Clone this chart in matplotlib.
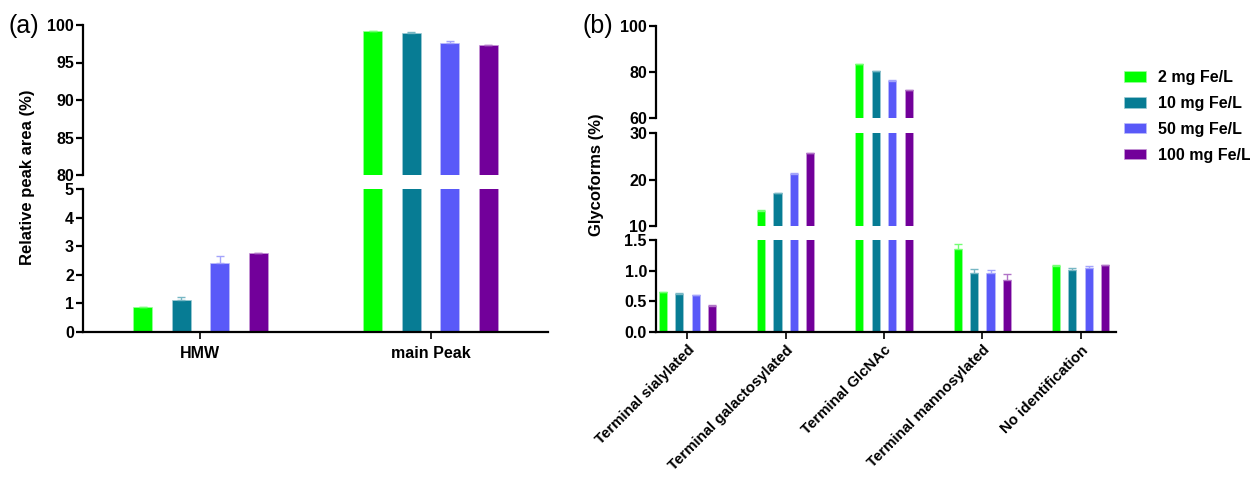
import numpy as np
import matplotlib
matplotlib.use("Agg")
import matplotlib.pyplot as plt
from matplotlib.colors import to_rgb

plt.rcParams["font.family"] = ["Liberation Sans", "DejaVu Sans"]
plt.rcParams["font.weight"] = "bold"
plt.rcParams["font.size"] = 11.5

# --- data ---
doses = ["2 mg Fe/L", "10 mg Fe/L", "50 mg Fe/L", "100 mg Fe/L"]
colors = ["#00FF00", "#077C94", "#5959F8", "#72009A"]

peaks = ["HMW", "main Peak"]
peak_area = [
    [0.88, 99.20],   # 2 mg
    [1.13, 98.93],   # 10 mg
    [2.42, 97.63],   # 50 mg
    [2.77, 97.28],   # 100 mg
]
peak_err = [
    [0.00, 0.00],
    [0.09, 0.10],
    [0.23, 0.25],
    [0.00, 0.00],
]

glycoforms = ["Terminal sialylated", "Terminal galactosylated", "Terminal GlcNAc",
              "Terminal mannosylated", "No identification"]
glyco_pct = [
    [0.65, 13.3, 83.5, 1.36, 1.07],
    [0.62, 17.0, 80.4, 0.96, 1.01],
    [0.60, 21.2, 76.2, 0.96, 1.04],
    [0.43, 25.6, 72.0, 0.84, 1.09],
]
glyco_err = [
    [0.01, 0.10, 0.15, 0.07, 0.02],
    [0.01, 0.10, 0.15, 0.06, 0.03],
    [0.01, 0.10, 0.15, 0.05, 0.03],
    [0.01, 0.10, 0.15, 0.10, 0.01],
]


def lighten(c, f=0.45):
    r, g, b = to_rgb(c)
    return (r + (1 - r) * f, g + (1 - g) * f, b + (1 - b) * f)


def draw_bars(ax, values, errors, ncat):
    x = np.arange(ncat)
    step, width = 0.167, 0.083
    for i, (vals, errs, col) in enumerate(zip(values, errors, colors)):
        xpos = x + (i - 1.5) * step
        ax.bar(xpos, vals, width=width, color=col, edgecolor=lighten(col, 0.6),
               linewidth=0.5, label=doses[i], zorder=2)
        lower = np.zeros(len(errs))
        ax.errorbar(xpos, vals, yerr=[lower, errs], fmt="none", ecolor=lighten(col),
                    elinewidth=1.0, capsize=3, capthick=1.0, zorder=3)


def style_axis(ax, ylim, yticks, bottom=False, fmt=None):
    ax.set_ylim(*ylim)
    ax.set_yticks(yticks)
    if fmt:
        ax.set_yticklabels([fmt.format(t) for t in yticks])
    for s in ["top", "right"]:
        ax.spines[s].set_visible(False)
    ax.spines["left"].set_linewidth(1.6)
    ax.tick_params(axis="y", length=5, width=1.6, pad=1.5)
    if bottom:
        ax.spines["bottom"].set_linewidth(1.6)
        ax.tick_params(axis="x", length=5, width=1.2, pad=5)
    else:
        ax.spines["bottom"].set_visible(False)
        ax.tick_params(axis="x", bottom=False, labelbottom=False)


W, H = 1250, 479
fig = plt.figure(figsize=(12.5, 4.79), dpi=100)


def add_ax(left, top, right, bottom):
    return fig.add_axes([left / W, 1 - bottom / H, (right - left) / W, (bottom - top) / H])


# ---------------- panel (a) ----------------
a_up = add_ax(83, 25, 548, 175)
a_lo = add_ax(83, 189, 548, 332)
for ax in (a_up, a_lo):
    draw_bars(ax, peak_area, peak_err, len(peaks))
    ax.set_xlim(-0.51, 1.51)
style_axis(a_up, (80, 100), [80, 85, 90, 95, 100])
style_axis(a_lo, (0, 5), [0, 1, 2, 3, 4, 5], bottom=True)
a_lo.set_xticks(range(len(peaks)))
a_lo.set_xticklabels(peaks)
fig.text(28 / W, 1 - 177 / H, "Relative peak area (%)", rotation=90,
         ha="center", va="center", fontsize=12)
fig.text(9 / W, 1 - 26 / H, "(a)", fontsize=18, fontweight="normal", va="center")

# ---------------- panel (b) ----------------
b_up = add_ax(656, 26, 1116, 118)
b_mid = add_ax(656, 133, 1116, 226)
b_lo = add_ax(656, 240, 1116, 332)
for ax in (b_up, b_mid, b_lo):
    draw_bars(ax, glyco_pct, glyco_err, len(glycoforms))
    ax.set_xlim(-0.32, 4.36)
style_axis(b_up, (60, 100), [60, 80, 100])
style_axis(b_mid, (10, 30), [10, 20, 30])
style_axis(b_lo, (0, 1.5), [0.0, 0.5, 1.0, 1.5], bottom=True, fmt="{:.1f}")
b_lo.set_xticks(range(len(glycoforms)))
b_lo.set_xticklabels(glycoforms, rotation=45, ha="right", rotation_mode="anchor",
                     fontsize=10.8)
b_lo.tick_params(axis="x", pad=3)
fig.text(597 / W, 1 - 175 / H, "Glycoforms (%)", rotation=90,
         ha="center", va="center", fontsize=12)
fig.text(582 / W, 1 - 26 / H, "(b)", fontsize=18, fontweight="normal", va="center")

handles, labels = b_lo.get_legend_handles_labels()
bar_handles = [h for h in handles if hasattr(h, "patches")]
fig.legend(bar_handles, doses, loc="upper left", bbox_to_anchor=(1124 / W, 1 - 70 / H),
           frameon=False, fontsize=11.5, handlelength=1.35, handleheight=0.65,
           labelspacing=0.68, handletextpad=0.75, borderaxespad=0, borderpad=0)

fig.savefig("out.png", dpi=100, facecolor="white")
